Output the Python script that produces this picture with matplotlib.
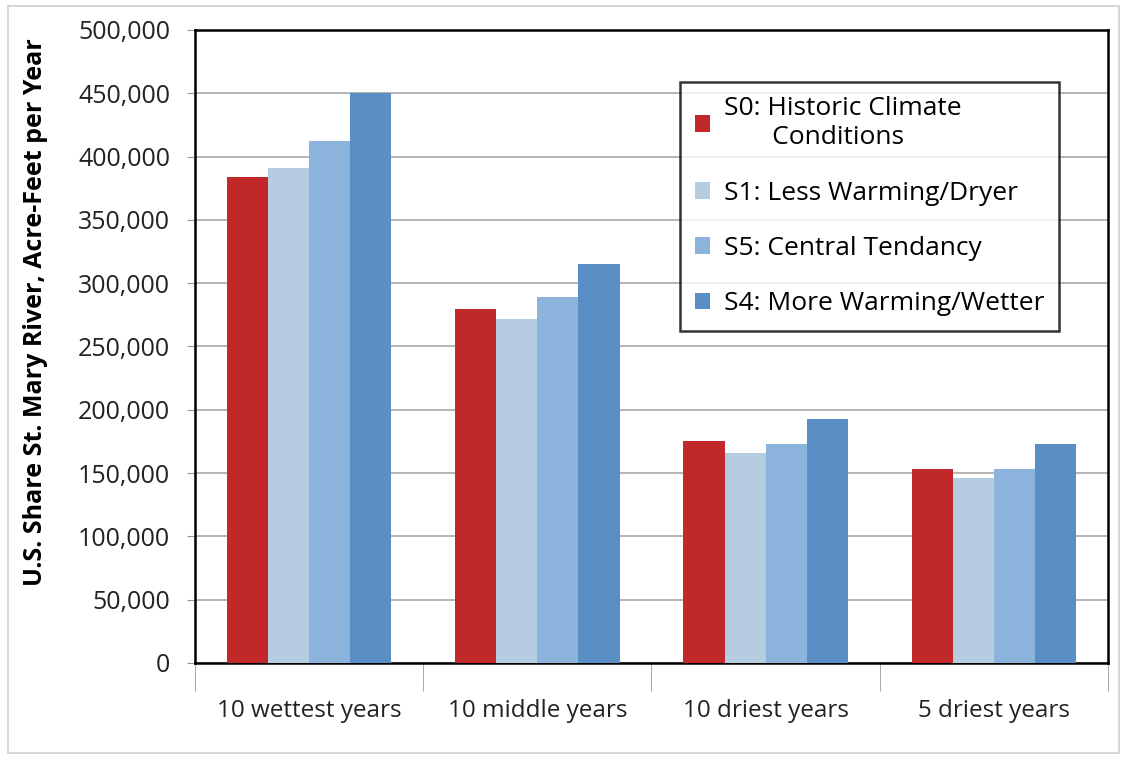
import matplotlib.pyplot as plt
from matplotlib.patches import Rectangle
from matplotlib.ticker import FuncFormatter, FixedLocator
import numpy as np

categories = ["10 wettest years", "10 middle years", "10 driest years", "5 driest years"]
series_names = ["S0: Historic Climate\n       Conditions", "S1: Less Warming/Dryer",
                "S5: Central Tendancy", "S4: More Warming/Wetter"]
s0 = [384000, 280000, 175000, 153000]
s1 = [391000, 272000, 166000, 146000]
s5 = [412000, 289000, 173000, 153000]
s4 = [450000, 315000, 193000, 173000]
colors = ["#C0282A", "#B6CCE0", "#8CB3DB", "#5A8FC6"]

plt.rcParams['font.family'] = ['Open Sans', 'DejaVu Sans']

fig = plt.figure(figsize=(11.22, 7.59), dpi=100)
ax = fig.add_axes([0.1738, 0.1265, 0.8137, 0.834])

# thin grey frame round the whole picture
fig.patches.append(Rectangle((0.007, 0.008), 0.99, 0.984, transform=fig.transFigure,
                             fill=False, edgecolor="#d0d0d0", linewidth=1.2))

x = np.arange(len(categories))
w = 0.18
all_series = [s0, s1, s5, s4]
for i, vals in enumerate(all_series):
    ax.bar(x + (i - 1.5) * w, vals, width=w, color=colors[i], label=series_names[i], zorder=3)

ax.set_xlim(-0.5, 3.5)
ax.set_ylim(0, 500000)
ax.set_yticks(np.arange(0, 500001, 50000))
ax.yaxis.set_major_formatter(FuncFormatter(lambda v, p: f"{int(v):,}"))
ax.grid(axis="y", color="#b0b0b0", linewidth=1.3, zorder=0)

ax.set_xticks(x)
ax.set_xticklabels(categories, fontsize=17.5, color="#222222")
ax.tick_params(axis="x", length=0, pad=26)
ax.xaxis.set_minor_locator(FixedLocator([-0.5, 0.5, 1.5, 2.5, 3.5]))
ax.tick_params(axis="x", which="minor", length=20, color="#999999")
ax.tick_params(axis="y", labelsize=18, length=6, color="#999999", labelcolor="#222222", pad=12)

for s in ax.spines.values():
    s.set_color("black")
    s.set_linewidth(1.8)

ax.set_ylabel("U.S. Share St. Mary River, Acre-Feet per Year", fontsize=18,
              fontweight="bold")
ax.yaxis.set_label_coords(-0.161, 0.555)

leg = ax.legend(loc="upper right", bbox_to_anchor=(0.946, 0.918), fontsize=19,
                frameon=True, fancybox=False, edgecolor="black", handlelength=0.6,
                handleheight=0.6, handletextpad=0.5, labelspacing=1.15,
                borderpad=0.55, borderaxespad=0)
leg.get_frame().set_linewidth(1.8)

fig.savefig("out.png", dpi=100)
